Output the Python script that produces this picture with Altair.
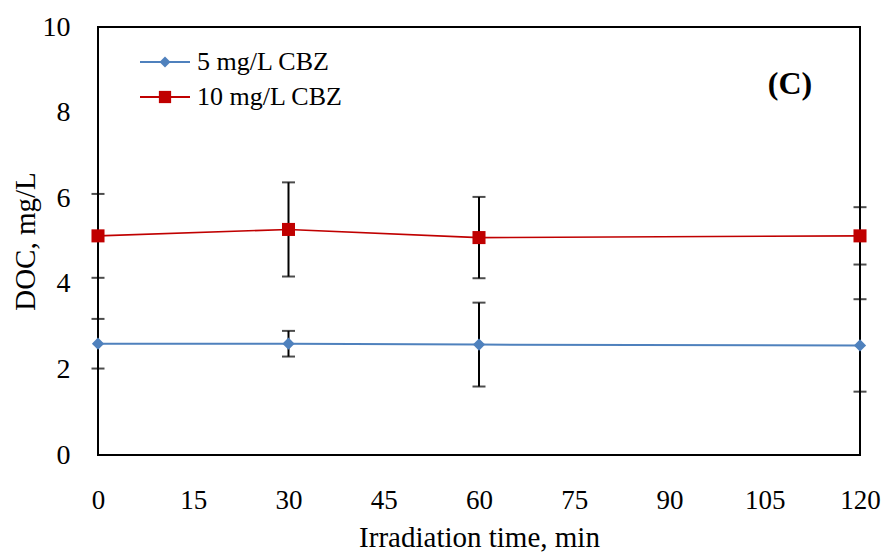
import altair as alt
import pandas as pd

time_min = [0, 30, 60, 120]
doc_5 = [2.60, 2.60, 2.58, 2.56]
err_5 = [0.58, 0.30, 0.98, 1.08]
doc_10 = [5.12, 5.27, 5.08, 5.12]
err_10 = [0.98, 1.10, 0.95, 0.67]
series_names = ["5 mg/L CBZ", "10 mg/L CBZ"]
colors = ["#4F81BD", "#C00000"]
shapes = ["diamond", "square"]

rows = []
for name, vals, errs in [(series_names[0], doc_5, err_5), (series_names[1], doc_10, err_10)]:
    for t, v, e in zip(time_min, vals, errs):
        rows.append({"time": t, "doc": v, "lo": v - e, "hi": v + e, "series": name})
df = pd.DataFrame(rows)

FONT = "Liberation Serif"
xs = alt.Scale(domain=[0, 120], nice=False)
ys = alt.Scale(domain=[0, 10], nice=False)
X = alt.X("time:Q", scale=xs, axis=alt.Axis(values=[0, 15, 30, 45, 60, 75, 90, 105, 120],
          title="Irradiation time, min", ticks=False, domain=False, grid=False,
          labelPadding=32, titlePadding=10, labelFlush=False, labelFontSize=27))
Y = alt.Y("doc:Q", scale=ys, axis=alt.Axis(values=[0, 2, 4, 6, 8, 10], title="DOC, mg/L",
          ticks=False, domain=False, grid=False, labelPadding=28, titlePadding=2))

layers = []
for name, col, shp, w, sz in zip(series_names, colors, shapes, [2, 1.6], [150, 170]):
    d = df[df.series == name]
    base = alt.Chart(d)
    layers.append(base.mark_rule(color="black", strokeWidth=2).encode(x=X, y=alt.Y("lo:Q", scale=ys), y2="hi:Q"))
    layers.append(base.mark_tick(color="black", thickness=2, size=13, orient="horizontal").encode(x=X, y=alt.Y("lo:Q", scale=ys)))
    layers.append(base.mark_tick(color="black", thickness=2, size=13, orient="horizontal").encode(x=X, y=alt.Y("hi:Q", scale=ys)))
    layers.append(base.mark_line(color=col, strokeWidth=w).encode(x=X, y=Y))
    layers.append(base.mark_point(color=col, shape=shp, filled=True, opacity=1, size=sz).encode(x=X, y=Y))

# legend
for i, (name, col, shp, sz) in enumerate(zip(series_names, colors, shapes, [120, 150])):
    yp = 35 + i * 35
    one = alt.Chart(pd.DataFrame({"series": [name]}))
    layers.append(one.mark_rule(color=col, strokeWidth=2).encode(x=alt.value(42), x2=alt.value(92), y=alt.value(yp)))
    layers.append(one.mark_point(color=col, shape=shp, filled=True, opacity=1, size=sz).encode(x=alt.value(67), y=alt.value(yp)))
    layers.append(one.mark_text(font=FONT, fontSize=26, align="left", baseline="middle", color="black")
                  .encode(x=alt.value(99), y=alt.value(yp), text="series:N"))

layers.append(alt.Chart(pd.DataFrame({"t": ["(C)"]})).mark_text(font=FONT, fontSize=32, fontWeight="bold",
              align="center", baseline="middle", color="black").encode(x=alt.value(692), y=alt.value(57), text="t:N"))

chart = alt.layer(*layers).properties(
    width=762, height=428,
    autosize=alt.AutoSizeParams(type="none"),
    padding={"left": 90, "top": 19, "right": 21, "bottom": 102},
).configure_view(stroke="black", strokeWidth=2).configure_axis(
    labelFont=FONT, titleFont=FONT, labelFontSize=28, titleFontSize=29,
    labelColor="black", titleColor="black", titleFontWeight="normal"
)

chart.save("out.html", embed_options={"renderer": "svg", "actions": False})
